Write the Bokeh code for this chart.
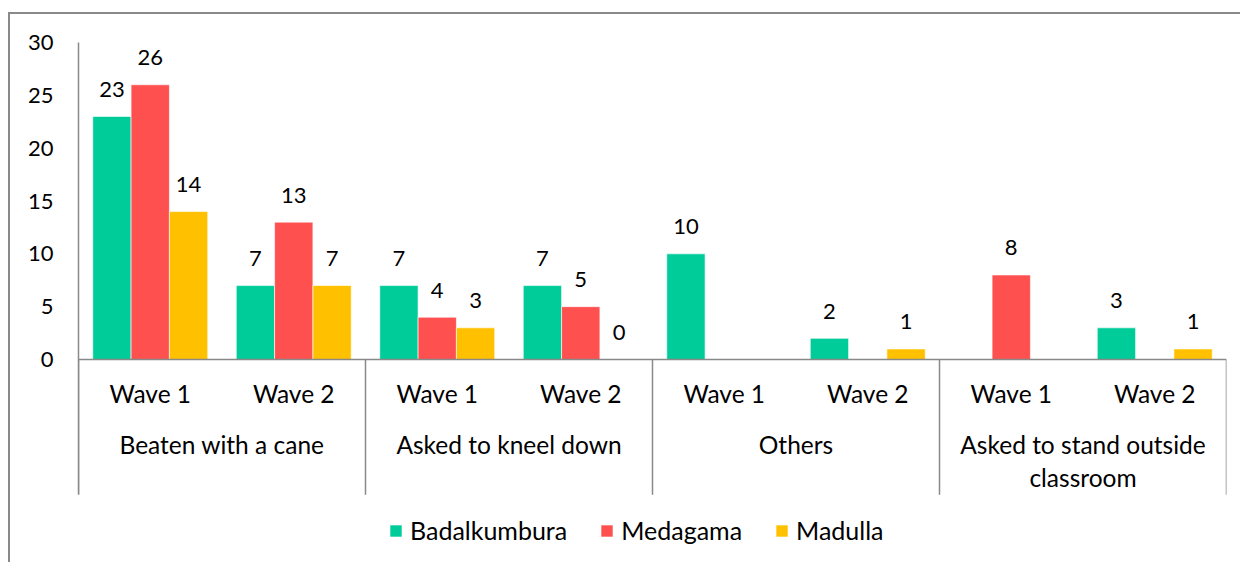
from bokeh.plotting import figure
from bokeh.models import (FactorRange, ColumnDataSource, Legend, LegendItem, Span,
                          FixedTicker, Range1d)
from bokeh.transform import dodge
from bokeh.core.properties import value
from bokeh.embed import file_html
from bokeh.resources import INLINE

groups = ["Beaten with a cane", "Asked to kneel down", "Others",
          "Asked to stand outside classroom"]
group_labels = ["Beaten with a cane", "Asked to kneel down", "Others",
                "Asked to stand outside\nclassroom"]
waves = ["Wave 1", "Wave 2"]
series = ["Badalkumbura", "Medagama", "Madulla"]
badalkumbura = [23, 7, 7, 7, 10, 2, None, 3]
medagama = [26, 13, 4, 5, None, None, 8, None]
madulla = [14, 7, 3, 0, None, 1, None, 1]
y_ticks = [0, 5, 10, 15, 20, 25, 30]

colors = ["#00CC99", "#FF5050", "#FFC000"]
FONT = "Lato"
FS = "24.5px"
LFS = "25px"
NFS = "22px"
GRAY = "#898989"
AXIS_BOTTOM = -12.8

factors = [(g, w) for g in groups for w in waves]

p = figure(x_range=FactorRange(*factors, group_padding=0, factor_padding=0,
                               subgroup_padding=0, range_padding=0),
           y_range=Range1d(-19.4, 30),
           width=1232, height=550, output_backend="svg", toolbar_location=None,
           x_axis_location=None)
p.margin = (12, 0, 0, 8)
p.styles = {"border-left": f"2px solid {GRAY}", "border-top": f"2px solid {GRAY}"}
p.min_border_left = 68
p.min_border_right = 16
p.min_border_top = 28
p.min_border_bottom = 0
p.outline_line_color = None
p.xgrid.visible = False
p.ygrid.visible = False
p.background_fill_color = "white"
p.border_fill_color = "white"

ax = p.yaxis[0]
ax.ticker = FixedTicker(ticks=y_ticks)
ax.bounds = (AXIS_BOTTOM, 30)
ax.major_tick_line_color = None
ax.minor_tick_line_color = None
ax.major_tick_out = 0
ax.major_tick_in = 0
ax.axis_line_color = GRAY
ax.axis_line_width = 1.5
ax.major_label_standoff = 25
ax.major_label_text_font = FONT
ax.major_label_text_font_size = NFS
ax.major_label_text_color = "black"

# baseline
p.add_layout(Span(location=0, dimension="width", line_color=GRAY, line_width=1.5))

width = 0.267
offsets = [-width, 0, width]
all_series = [badalkumbura, medagama, madulla]
renderers = []
for name, vals, col, off in zip(series, all_series, colors, offsets):
    top = [float("nan") if v is None else v for v in vals]
    src = ColumnDataSource(dict(x=factors, top=top))
    r = p.vbar(x=dodge("x", off, range=p.x_range), top="top", bottom=0, width=width,
               source=src, fill_color=col, line_color="white", line_width=0.6)
    renderers.append(r)
    lx = [f for f, v in zip(factors, vals) if v is not None]
    ly = [v for v in vals if v is not None]
    lsrc = ColumnDataSource(dict(x=lx, y=ly, t=[str(v) for v in ly]))
    p.text(x=dodge("x", off, range=p.x_range), y="y", text="t", source=lsrc,
           text_align="center", text_baseline="alphabetic", y_offset=-27,
           text_font=value(FONT), text_font_size=NFS, text_color="black")

# category axis drawn in data space below zero
sep_src = ColumnDataSource(dict(x=[(g, "Wave 1") for g in groups]))
p.segment(x0=dodge("x", -0.5, range=p.x_range), x1=dodge("x", -0.5, range=p.x_range),
          y0=0, y1=AXIS_BOTTOM, source=sep_src, line_color=GRAY, line_width=1.5)
end_src = ColumnDataSource(dict(x=[(groups[-1], "Wave 2")]))
p.segment(x0=dodge("x", 0.5, range=p.x_range), x1=dodge("x", 0.5, range=p.x_range),
          y0=0, y1=AXIS_BOTTOM, source=end_src, line_color=GRAY, line_width=1.5)

wave_src = ColumnDataSource(dict(x=factors, t=[w for _, w in factors]))
p.text(x="x", y=-3.2, text="t", source=wave_src, text_align="center",
       text_baseline="middle", text_font=value(FONT), text_font_size=FS,
       text_color="black")

grp_src = ColumnDataSource(dict(x=[(g, "Wave 1") for g in groups], t=group_labels))
p.text(x=dodge("x", 0.5, range=p.x_range), y=-6.7, text="t", source=grp_src,
       text_align="center", text_baseline="top", text_line_height=1.14,
       text_font=value(FONT), text_font_size=FS, text_color="black")

legend = Legend(items=[LegendItem(label=s, renderers=[r]) for s, r in zip(series, renderers)],
                orientation="horizontal", location=(310, 19),
                glyph_width=15, glyph_height=15, label_standoff=7, spacing=32,
                padding=0, margin=0, border_line_color=None,
                background_fill_alpha=0,
                label_text_font=FONT, label_text_font_size=LFS, label_text_color="black")
p.add_layout(legend, "center")

open("out.html", "w").write(file_html(p, INLINE))
